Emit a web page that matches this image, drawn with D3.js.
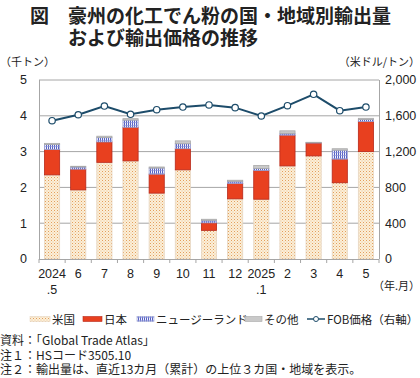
<!DOCTYPE html>
<html>
<head>
<meta charset="utf-8">
<script src="https://cdn.jsdelivr.net/npm/d3@7"></script>
<style>
  body { margin: 0; background: #fff; }
  svg { display: block; font-family: "Liberation Sans", Arial, "Noto Sans CJK JP", sans-serif; }
  .jp { font-family: "Noto Sans CJK JP", sans-serif; }
</style>
</head>
<body>
<div id="chart"></div>
<script>
// Data
const months = ["2024", "6", "7", "8", "9", "10", "11", "12", "2025", "2", "3", "4", "5"];
const subLabels = [".5", "", "", "", "", "", "", "", ".1", "", "", "", ""];
const usa = [2.35, 1.93, 2.70, 2.74, 1.84, 2.49, 0.80, 1.68, 1.67, 2.60, 2.88, 2.13, 3.00];
const japan = [0.71, 0.58, 0.57, 0.94, 0.53, 0.59, 0.21, 0.43, 0.80, 0.86, 0.36, 0.66, 0.84];
const newZealand = [0.14, 0.06, 0.12, 0.20, 0.17, 0.14, 0.07, 0.06, 0.06, 0.05, 0.01, 0.25, 0.06];
const others = [0.03, 0.02, 0.04, 0.04, 0.03, 0.08, 0.03, 0.03, 0.08, 0.07, 0.01, 0.04, 0.03];
const fobPrice = [1545, 1612, 1709, 1617, 1668, 1698, 1721, 1691, 1598, 1713, 1840, 1657, 1698];
const leftTicks = [0, 1, 2, 3, 4, 5];
const rightTicks = [0, 400, 800, 1200, 1600, 2000];

const width = 420, height = 378;
const margin = { top: 80, right: 41, bottom: 119, left: 39 };

const svg = d3.select("#chart").append("svg")
  .attr("width", width).attr("height", height);

// Patterns
const defs = svg.append("defs");
const pUs = defs.append("pattern").attr("id", "pat-us")
  .attr("width", 3).attr("height", 3).attr("patternUnits", "userSpaceOnUse");
pUs.append("rect").attr("width", 3).attr("height", 3).attr("fill", "#fbefd9");
pUs.append("rect").attr("x", 0).attr("y", 0).attr("width", 1).attr("height", 1).attr("fill", "#e39f5c");
pUs.append("rect").attr("x", 1.5).attr("y", 1.5).attr("width", 1).attr("height", 1).attr("fill", "#ecc08f");

const pNz = defs.append("pattern").attr("id", "pat-nz")
  .attr("width", 2).attr("height", 3).attr("patternUnits", "userSpaceOnUse");
pNz.append("rect").attr("width", 2).attr("height", 3).attr("fill", "#f2f2fb");
pNz.append("rect").attr("width", 1).attr("height", 3).attr("fill", "#5763c4");
pNz.append("rect").attr("y", 2).attr("width", 2).attr("height", 0.6).attr("fill", "#8890d8");

// Scales
const x = d3.scaleBand()
  .domain(months.map((d, i) => i))
  .range([margin.left, width - margin.right])
  .paddingInner(0.42)
  .paddingOuter(0.21);

const y = d3.scaleLinear().domain([0, 5]).range([height - margin.bottom, margin.top]);
const y2 = d3.scaleLinear().domain([0, 2000]).range([height - margin.bottom, margin.top]);

// Gridlines
svg.append("g")
  .selectAll("line")
  .data(leftTicks.slice(1))
  .join("line")
  .attr("x1", margin.left).attr("x2", width - margin.right)
  .attr("y1", (d) => y(d)).attr("y2", (d) => y(d))
  .attr("stroke", "#a6a6a6").attr("stroke-width", 1);

// Axes lines
svg.append("line")
  .attr("x1", margin.left + 0.5).attr("x2", margin.left + 0.5)
  .attr("y1", y(5)).attr("y2", y(0))
  .attr("stroke", "#a6a6a6");
svg.append("line")
  .attr("x1", width - margin.right + 0.5).attr("x2", width - margin.right + 0.5)
  .attr("y1", y(5)).attr("y2", y(0))
  .attr("stroke", "#a6a6a6");

// Stacked bars
const series = [
  { key: "us", values: usa, fill: "url(#pat-us)", stroke: "#e6d6c2" },
  { key: "jp", values: japan, fill: "#e8401f", stroke: "#b8281a" },
  { key: "nz", values: newZealand, fill: "url(#pat-nz)", stroke: "#9aa0d0" },
  { key: "ot", values: others, fill: "#c9c9c9", stroke: "#a8a8a8" },
];
const stackData = months.map((m, i) => {
  const row = { i };
  series.forEach((s) => (row[s.key] = s.values[i]));
  return row;
});
const stacked = d3.stack().keys(series.map((s) => s.key))(stackData);

svg.append("g")
  .selectAll("g")
  .data(stacked)
  .join("g")
  .attr("fill", (d, k) => series[k].fill)
  .attr("stroke", (d, k) => series[k].stroke)
  .attr("stroke-width", 0.8)
  .selectAll("rect")
  .data((d) => d)
  .join("rect")
  .attr("x", (d) => x(d.data.i))
  .attr("width", x.bandwidth())
  .attr("y", (d) => y(d[1]))
  .attr("height", (d) => y(d[0]) - y(d[1]));

// X axis
const xAxis = svg.append("g")
  .attr("transform", `translate(0,${y(0)})`);
xAxis.append("line")
  .attr("x1", margin.left).attr("x2", width - margin.right)
  .attr("y1", 0.5).attr("y2", 0.5)
  .attr("stroke", "#a6a6a6");
xAxis.selectAll(".tick")
  .data(d3.range(months.length + 1))
  .join("line")
  .attr("x1", (i) => margin.left + i * x.step())
  .attr("x2", (i) => margin.left + i * x.step())
  .attr("y1", 0).attr("y2", 4)
  .attr("stroke", "#a6a6a6");
xAxis.selectAll(".lab")
  .data(months)
  .join("text")
  .attr("x", (d, i) => x(i) + x.bandwidth() / 2)
  .attr("y", 19)
  .attr("text-anchor", "middle")
  .attr("font-size", 12.5)
  .attr("fill", "#222")
  .text((d) => d);
xAxis.selectAll(".sub")
  .data(subLabels)
  .join("text")
  .attr("x", (d, i) => x(i) + x.bandwidth() / 2)
  .attr("y", 35)
  .attr("text-anchor", "middle")
  .attr("font-size", 12.5)
  .attr("fill", "#222")
  .text((d) => d);

// Y tick labels
svg.append("g")
  .selectAll("text")
  .data(leftTicks)
  .join("text")
  .attr("x", 27)
  .attr("y", (d) => y(d))
  .attr("dy", "0.35em")
  .attr("text-anchor", "end")
  .attr("font-size", 12.5)
  .attr("fill", "#222")
  .text((d) => d);
svg.append("g")
  .selectAll("text")
  .data(rightTicks)
  .join("text")
  .attr("x", width - margin.right + 6)
  .attr("y", (d) => y2(d))
  .attr("dy", "0.35em")
  .attr("font-size", 12.5)
  .attr("fill", "#222")
  .text((d) => d3.format(",")(d));

// Line
const line = d3.line()
  .x((d, i) => x(i) + x.bandwidth() / 2)
  .y((d) => y2(d));
svg.append("path")
  .datum(fobPrice)
  .attr("fill", "none")
  .attr("stroke", "#1d4c6a")
  .attr("stroke-width", 2)
  .attr("d", line);
svg.append("g")
  .selectAll("circle")
  .data(fobPrice)
  .join("circle")
  .attr("cx", (d, i) => x(i) + x.bandwidth() / 2)
  .attr("cy", (d) => y2(d))
  .attr("r", 3.2)
  .attr("fill", "#fff")
  .attr("stroke", "#1d4c6a")
  .attr("stroke-width", 1.2);

// Title
const title = svg.append("g").attr("class", "jp").attr("fill", "#222")
  .attr("font-size", 19).attr("font-weight", "bold");
title.append("text").attr("x", 30).attr("y", 23).text("図");
title.append("text").attr("x", 68).attr("y", 23).text("豪州の化工でん粉の国・地域別輸出量");
title.append("text").attr("x", 68).attr("y", 45).text("および輸出価格の推移");

// Unit labels
svg.append("text").attr("class", "jp").attr("x", 0).attr("y", 66)
  .attr("font-size", 11).attr("fill", "#222").text("（千トン）");
svg.append("text").attr("class", "jp").attr("x", 420).attr("y", 66)
  .attr("text-anchor", "end")
  .attr("font-size", 11).attr("fill", "#222").text("（米ドル/トン）");
svg.append("text").attr("class", "jp").attr("x", 420).attr("y", 290)
  .attr("text-anchor", "end")
  .attr("font-size", 11).attr("fill", "#222").text("（年.月）");

// Legend
const legend = svg.append("g").attr("class", "jp").attr("font-size", 11.5).attr("fill", "#222");
const legendItems = [
  { label: "米国", fill: "url(#pat-us)", stroke: "#e6d6c2", x: 30, w: 20 },
  { label: "日本", fill: "#e8401f", stroke: "#b8281a", x: 83, w: 19 },
  { label: "ニュージーランド", fill: "url(#pat-nz)", stroke: "#9aa0d0", x: 137, w: 17 },
  { label: "その他", fill: "#c9c9c9", stroke: "#a8a8a8", x: 245, w: 17 },
];
legendItems.forEach((d) => {
  legend.append("rect")
    .attr("x", d.x).attr("y", 316.5).attr("width", d.w).attr("height", 5)
    .attr("fill", d.fill).attr("stroke", d.stroke).attr("stroke-width", 0.6);
  legend.append("text").attr("x", d.x + d.w + 2).attr("y", 323.5).text(d.label);
});
legend.append("line")
  .attr("x1", 307).attr("x2", 325).attr("y1", 319).attr("y2", 319)
  .attr("stroke", "#1d4c6a").attr("stroke-width", 1.5);
legend.append("circle")
  .attr("cx", 316).attr("cy", 319).attr("r", 2.5)
  .attr("fill", "#fff").attr("stroke", "#1d4c6a").attr("stroke-width", 1);
legend.append("text").attr("x", 327).attr("y", 323.5).text("FOB価格（右軸）");

// Notes
const notes = [
  "資料：「Global Trade Atlas」",
  "注１：HSコード3505.10",
  "注２：輸出量は、直近13カ月（累計）の上位３カ国・地域を表示。",
];
svg.append("g").attr("class", "jp").attr("font-size", 12).attr("fill", "#222")
  .selectAll("text")
  .data(notes)
  .join("text")
  .attr("x", 0)
  .attr("y", (d, i) => 345 + i * 14.5)
  .text((d) => d);
</script>
</body>
</html>
